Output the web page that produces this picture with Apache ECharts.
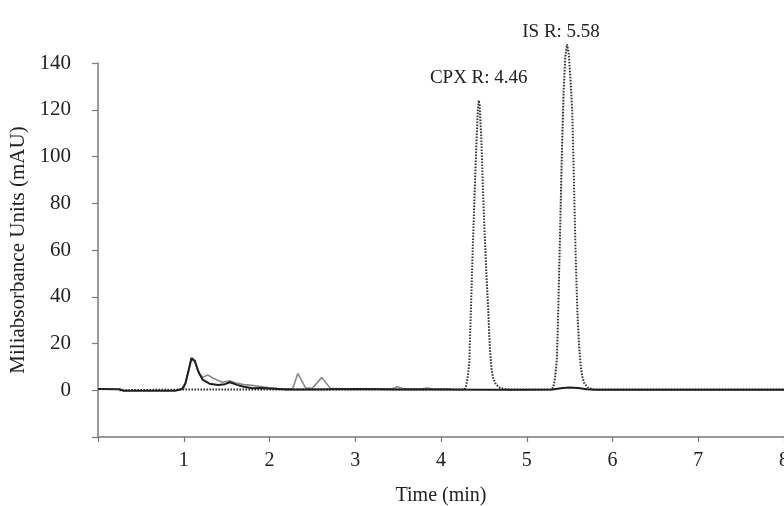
<!DOCTYPE html>
<html>
<head>
<meta charset="utf-8">
<script src="https://cdn.jsdelivr.net/npm/echarts@6/dist/echarts.min.js"></script>
<style>html,body{margin:0;padding:0;background:#fff;overflow:hidden}#c{width:784px;height:506px}</style>
</head>
<body>
<div id="c"></div>
<script>
// Solid black trace (time min, mAU)
const solidTime = [0, 0.25, 0.3, 0.9, 0.98, 1.02, 1.06, 1.09, 1.13, 1.17, 1.22, 1.3, 1.4, 1.48, 1.54, 1.62, 1.7, 1.8, 1.9, 2.0, 2.2, 2.5, 3.0, 3.5, 4.0, 4.5, 5.0, 5.3, 5.42, 5.5, 5.6, 5.7, 5.8, 6.0, 7.0, 8.0];
const solidVal  = [0.5, 0.4, -0.2, -0.2, 0.5, 3, 9, 13.8, 12.5, 8, 4.5, 2.8, 2.2, 2.6, 3.4, 2.3, 1.5, 0.9, 1.0, 0.8, 0.3, 0.3, 0.5, 0.3, 0.3, 0.2, 0.2, 0.3, 1.0, 1.2, 1.0, 0.4, 0.2, 0.2, 0.2, 0.2];

// Gray trace
const grayTime = [1.0, 1.06, 1.09, 1.13, 1.18, 1.22, 1.28, 1.35, 1.45, 1.54, 1.6, 1.7, 1.77, 1.9, 2.0, 2.1, 2.27, 2.33, 2.42, 2.5, 2.61, 2.71, 2.9, 3.3, 3.43, 3.49, 3.56, 3.78, 3.84, 3.9, 4.1];
const grayVal  = [0.5, 9, 13.5, 12, 7, 5.5, 6.5, 5, 3.4, 4.0, 3.2, 2.4, 2.2, 1.6, 1.0, 0.7, 0.6, 7.2, 1.0, 0.8, 5.5, 0.8, 0.6, 0.6, 0.6, 1.5, 0.6, 0.6, 0.9, 0.5, 0.5];

// Dotted trace (CPX and IS peaks)
const dotTime = [0.25, 1.0, 2.0, 3.0, 4.0, 4.27, 4.29, 4.31, 4.33, 4.35, 4.37, 4.39, 4.41, 4.43, 4.44, 4.45, 4.47, 4.49, 4.51, 4.53, 4.55, 4.57, 4.59, 4.61, 4.64, 4.69, 4.77, 5.0, 5.29, 5.31, 5.33, 5.35, 5.36, 5.37, 5.39, 5.41, 5.43, 5.45, 5.47, 5.49, 5.51, 5.53, 5.55, 5.57, 5.59, 5.61, 5.63, 5.65, 5.67, 5.71, 5.77, 6.0, 7.0, 8.0];
const dotVal  = [0.0, 0.3, 0.3, 0.3, 0.3, 0.3, 1.5, 5, 12, 36, 60, 82, 103, 120, 124, 122, 108, 85, 66, 49, 35, 18, 9, 5, 2.5, 1, 0.3, 0.3, 0.3, 1.5, 5, 13, 24, 39, 70, 102, 128, 143, 148, 144, 133, 120, 90, 58, 34, 19, 10, 5.5, 3, 1.2, 0.3, 0.3, 0.3, 0.3];

const xTicks = [0, 1, 2, 3, 4, 5, 6, 7, 8];
const yTicks = [-20, 0, 20, 40, 60, 80, 100, 120, 140];
// peak annotations: text and the data point they are anchored to
const peakLabelText = ['CPX R: 4.46', 'IS R: 5.58'];
const peakLabelTime = [4.44, 5.47];
const peakLabelVal  = [124, 148];

const pair = (t, v) => t.map((x, i) => [x, v[i]]);
const FONT = 'Liberation Serif';
const axisColor = '#7a7a7a';

const chart = echarts.init(document.getElementById('c'));
chart.setOption({
  animation: false,
  backgroundColor: '#fff',
  grid: {left: 98, right: 0, top: 63, bottom: 69, containLabel: false, outerBoundsMode: 'none'},
  xAxis: {
    type: 'value', min: xTicks[0], max: xTicks[xTicks.length - 1], interval: 1,
    name: 'Time (min)', nameLocation: 'middle', nameGap: 49,
    nameTextStyle: {fontFamily: FONT, fontSize: 20, color: '#222'},
    axisLine: {onZero: false, lineStyle: {color: axisColor, width: 1.5}},
    axisTick: {inside: false, length: 5, lineStyle: {color: axisColor, width: 1.2}},
    axisLabel: {fontFamily: FONT, fontSize: 20, color: '#222', margin: 14,
      formatter: v => (v === 0 ? '' : String(v))},
    splitLine: {show: false}
  },
  yAxis: {
    type: 'value', min: yTicks[0], max: yTicks[yTicks.length - 1], interval: 20,
    name: 'Miliabsorbance Units (mAU)', nameLocation: 'middle', nameGap: 65,
    nameTextStyle: {fontFamily: FONT, fontSize: 21, color: '#222'},
    axisLine: {show: true, lineStyle: {color: axisColor, width: 1.5}},
    axisTick: {show: true, inside: false, length: 6, lineStyle: {color: axisColor, width: 1.2}},
    axisLabel: {fontFamily: FONT, fontSize: 21, color: '#222', margin: 27,
      formatter: v => (v === -20 ? '' : String(v))},
    splitLine: {show: false}
  },
  series: [
    {type: 'line', data: pair(dotTime, dotVal), showSymbol: false, clip: false, z: 3,
     lineStyle: {color: '#333', width: 2, type: [1.6, 1.4]}},
    {type: 'line', data: pair(grayTime, grayVal), showSymbol: false, z: 2,
     lineStyle: {color: '#8a8a8a', width: 1.6}},
    {type: 'line', data: pair(solidTime, solidVal), showSymbol: false, z: 4,
     lineStyle: {color: '#1e1e1e', width: 2}}
  ]
});

// place the peak annotations relative to their peak apex (pixel from the chart's scales)
const labelShift = [[0, -22], [-6, -12]];
const graphics = peakLabelText.map((txt, i) => {
  const p = chart.convertToPixel({gridIndex: 0}, [peakLabelTime[i], peakLabelVal[i]]);
  return {
    type: 'text', x: p[0] + labelShift[i][0], y: p[1] + labelShift[i][1], z: 10,
    style: {text: txt, fontFamily: FONT, fontSize: 19, fill: '#222',
            align: 'center', verticalAlign: 'middle'}
  };
});
chart.setOption({graphic: graphics});
</script>
</body>
</html>
